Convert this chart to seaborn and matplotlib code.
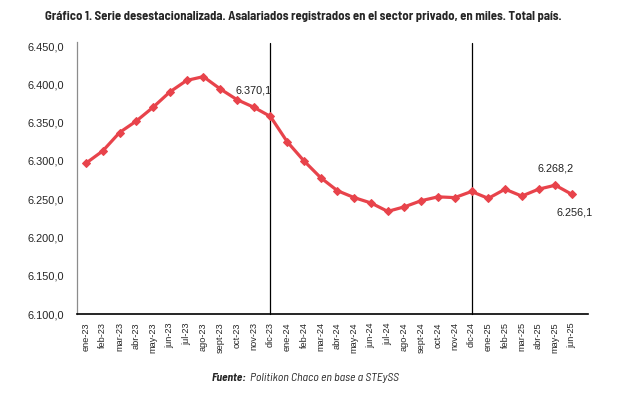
import matplotlib
matplotlib.use("Agg")
import matplotlib.pyplot as plt
import seaborn as sns
import pandas as pd
from matplotlib.ticker import FuncFormatter

months = ["ene-23", "feb-23", "mar-23", "abr-23", "may-23", "jun-23", "jul-23", "ago-23",
          "sept-23", "oct-23", "nov-23", "dic-23", "ene-24", "feb-24", "mar-24", "abr-24",
          "may-24", "jun-24", "jul-24", "ago-24", "sept-24", "oct-24", "nov-24", "dic-24",
          "ene-25", "feb-25", "mar-25", "abr-25", "may-25", "jun-25"]
values = [6297, 6313, 6337, 6352, 6370, 6390, 6405, 6410, 6394, 6380, 6370.1, 6358,
          6325, 6300, 6278, 6261, 6252, 6245, 6234, 6240, 6248, 6253, 6252, 6260,
          6251, 6263, 6254, 6263, 6268.2, 6256.1]
labeled = {"nov-23": (0, 12), "may-25": (0, 12), "jun-25": (2, -13)}
separators = ["dic-23", "dic-24"]

title = "Gráfico 1. Serie desestacionalizada. Asalariados registrados en el sector privado, en miles. Total país."
source_bold = "Fuente:"
source_rest = "Politikon Chaco en base a STEySS"

sns.set_style("white")
plt.rcParams['font.family'] = ['Liberation Sans', 'DejaVu Sans']
cond = ['Barlow Semi Condensed', 'Liberation Sans', 'DejaVu Sans']


def fmt(v):
    return f"{v:,.1f}".replace(",", "X").replace(".", ",").replace("X", ".")


df = pd.DataFrame({"pos": range(len(months)), "mes": months, "valor": values})

fig = plt.figure(figsize=(6.28, 3.97), dpi=100)
ax = fig.add_axes([77/628, 1-314/397, (588-77)/628, (314-46)/397])

red = "#E8434B"
sns.lineplot(data=df, x="pos", y="valor", ax=ax, color=red, linewidth=2.3,
             marker="D", markersize=4.3, markeredgecolor=red, markerfacecolor=red, zorder=3)

for s in separators:
    ax.axvline(months.index(s), ymax=1.012, color="black", linewidth=0.9, zorder=1, clip_on=False)

ax.set_xlim(-0.54, 29.95)
ax.set_ylim(6100, 6450)
ax.set_yticks(range(6100, 6451, 50))
ax.yaxis.set_major_formatter(FuncFormatter(lambda v, p: fmt(v)))
ax.set_xticks(df["pos"])
ax.set_xticklabels(months, rotation=90, fontsize=6.6)
ax.tick_params(axis="y", labelsize=7.9, length=0, pad=9)
ax.tick_params(axis="x", length=0, pad=6)
ax.set_xlabel("")
ax.set_ylabel("")
for side in ["top", "right"]:
    ax.spines[side].set_visible(False)
ax.spines["left"].set_color("#8c8c8c")
ax.spines["left"].set_bounds(6100, 6455)
ax.spines["bottom"].set_color("black")
ax.spines["left"].set_linewidth(0.9)
ax.spines["bottom"].set_linewidth(1.2)

for m, (dx, dy) in labeled.items():
    i = months.index(m)
    v = values[i]
    ax.annotate(fmt(v), (i, v), xytext=(dx, dy), textcoords="offset points",
                ha="center", va="center", fontsize=7.8, color="#222222")

fig.text(303.5/628, 1-17/397, title, ha="center", va="center", fontsize=9.1,
         fontweight="bold", family=cond)

t1 = fig.text(212/628, 1-378/397, source_bold, ha="left", va="center", fontsize=8.3,
              fontweight="bold", style="italic", family=cond)
ax.annotate(source_rest, xy=(1, 0.5), xycoords=t1, xytext=(2, 0), textcoords="offset points",
            ha="left", va="center", fontsize=8.5, style="italic", family=cond,
            annotation_clip=False)

fig.savefig("out.png", dpi=100, facecolor="white")
